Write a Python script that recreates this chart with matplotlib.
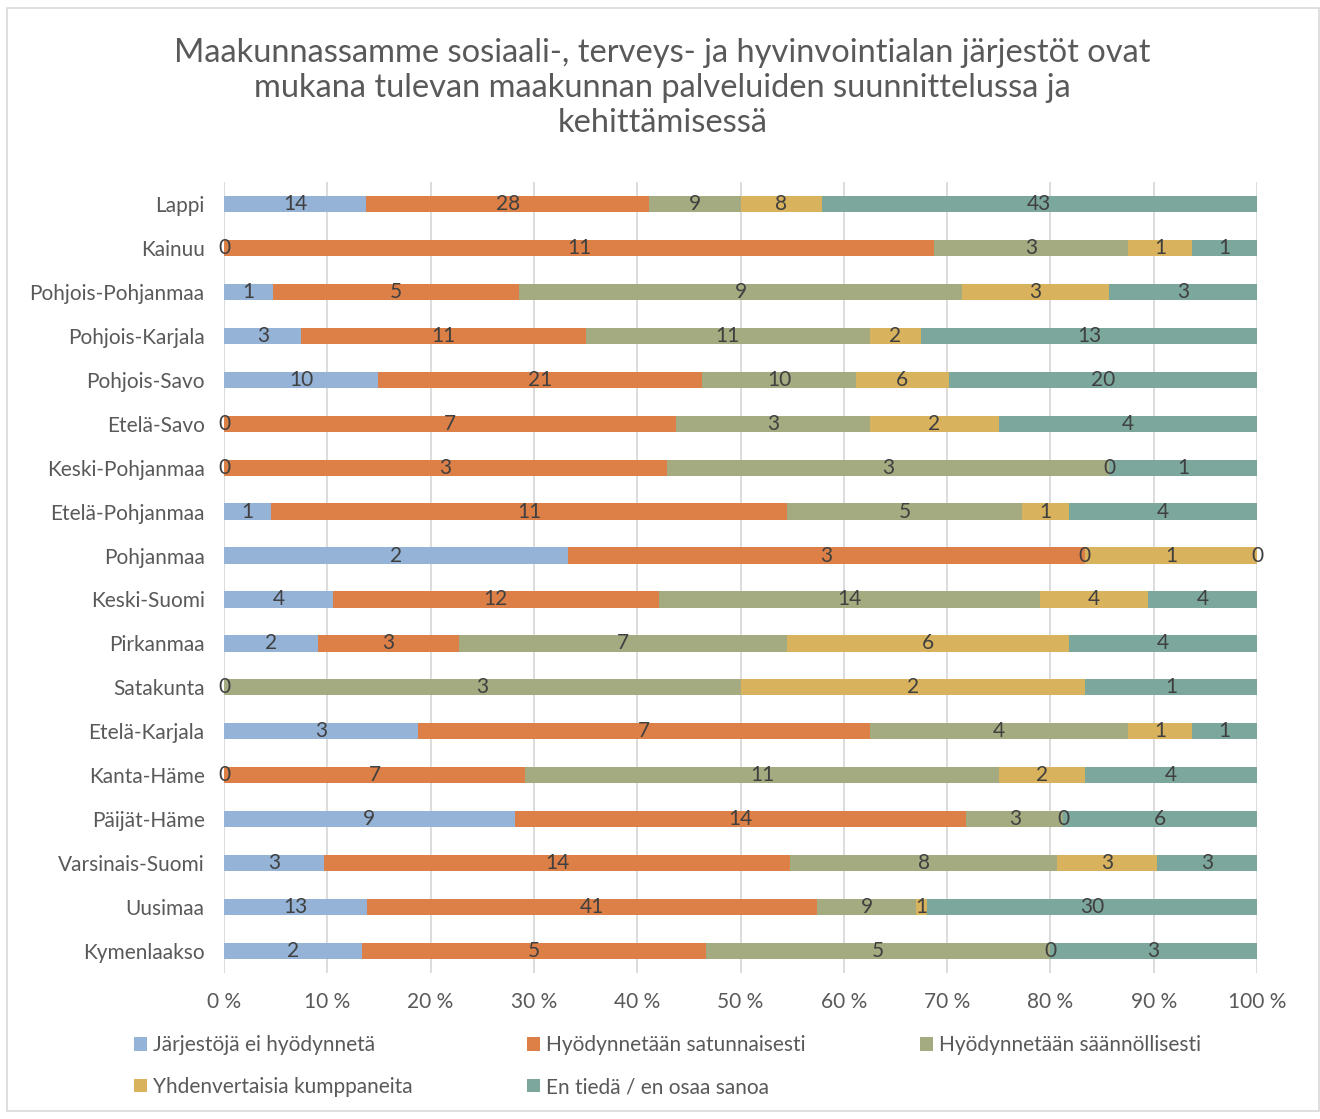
import numpy as np
import matplotlib.pyplot as plt
from matplotlib.patches import Rectangle

plt.rcParams['font.family'] = ['Lato', 'DejaVu Sans']

# maakunnat ylhäältä alas
maakunnat = ['Lappi', 'Kainuu', 'Pohjois-Pohjanmaa', 'Pohjois-Karjala', 'Pohjois-Savo',
             'Etelä-Savo', 'Keski-Pohjanmaa', 'Etelä-Pohjanmaa', 'Pohjanmaa', 'Keski-Suomi',
             'Pirkanmaa', 'Satakunta', 'Etelä-Karjala', 'Kanta-Häme', 'Päijät-Häme',
             'Varsinais-Suomi', 'Uusimaa', 'Kymenlaakso']

ei_hyodynneta = [14, 0, 1, 3, 10, 0, 0, 1, 2, 4, 2, 0, 3, 0, 9, 3, 13, 2]
satunnaisesti = [28, 11, 5, 11, 21, 7, 3, 11, 3, 12, 3, np.nan, 7, 7, 14, 14, 41, 5]
saannollisesti = [9, 3, 9, 11, 10, 3, 3, 5, 0, 14, 7, 3, 4, 11, 3, 8, 9, 5]
kumppaneita = [8, 1, 3, 2, 6, 2, 0, 1, 1, 4, 6, 2, 1, 2, 0, 3, 1, 0]
en_tieda = [43, 1, 3, 13, 20, 4, 1, 4, 0, 4, 4, 1, 1, 4, 6, 3, 30, 3]

sarjat = ['Järjestöjä ei hyödynnetä', 'Hyödynnetään satunnaisesti', 'Hyödynnetään säännöllisesti',
          'Yhdenvertaisia kumppaneita', 'En tiedä / en osaa sanoa']
varit = ['#95B3D7', '#DD8047', '#A5AB81', '#D8B25C', '#7BA79D']

data = np.array([ei_hyodynneta, satunnaisesti, saannollisesti, kumppaneita, en_tieda], dtype=float)
summat = np.nansum(data, axis=0)
osuudet = data / summat * 100

fig = plt.figure(figsize=(13.2, 11.19), dpi=100)
fig.patches.append(Rectangle((7/1320, 8/1119), 1312/1320, 1103/1119, transform=fig.transFigure,
                             fill=False, edgecolor='#D9D9D9', linewidth=1.2))

ax = fig.add_axes([224/1320, 1 - 973/1119, (1257-224)/1320, (973-182)/1119])
y = np.arange(len(maakunnat))
vasen = np.zeros(len(maakunnat))
palkit = []
for i in range(5):
    leveys = np.nan_to_num(osuudet[i])
    b = ax.barh(y, leveys, left=vasen, height=0.37, color=varit[i], label=sarjat[i], zorder=2)
    palkit.append(b)
    for j in range(len(maakunnat)):
        if np.isnan(data[i, j]):
            continue
        ax.text(vasen[j] + leveys[j] / 2, y[j], '%d' % data[i, j], ha='center', va='center',
                fontsize=15, color='#404040', zorder=3)
    vasen += leveys

ax.set_ylim(len(maakunnat) - 0.5, -0.5)
ax.set_xlim(0, 100)
ax.set_yticks(y)
ax.set_yticklabels(maakunnat, fontsize=15, color='#595959')
ax.set_xticks(np.arange(0, 101, 10))
ax.set_xticklabels(['%d %%' % v for v in range(0, 101, 10)], fontsize=15, color='#595959')
ax.tick_params(length=0)
ax.tick_params(axis='y', pad=14)
ax.tick_params(axis='x', pad=14)
for s in ax.spines.values():
    s.set_visible(False)
ax.grid(axis='x', color='#D9D9D9', linewidth=1.3, zorder=0)
ax.set_axisbelow(True)

fig.text(0.502, 1 - 88/1119,
         'Maakunnassamme sosiaali-, terveys- ja hyvinvointialan järjestöt ovat\n'
         'mukana tulevan maakunnan palveluiden suunnittelussa ja\nkehittämisessä',
         ha='center', va='center', fontsize=23.5, color='#595959', linespacing=1.2)

# rivit täytetään vaakasuunnassa kuten Excelissä
jarj = [0, 3, 1, 4, 2]
fig.legend([palkit[k] for k in jarj], [sarjat[k] for k in jarj],
           loc='upper left', bbox_to_anchor=(126/1320, 1 - 1027/1119), ncol=3, frameon=False,
           fontsize=15, labelcolor='#595959', handlelength=0.6, handleheight=0.6,
           handletextpad=0.3, columnspacing=5.5, labelspacing=1.05, borderaxespad=0)

fig.savefig('out.png', dpi=100)
